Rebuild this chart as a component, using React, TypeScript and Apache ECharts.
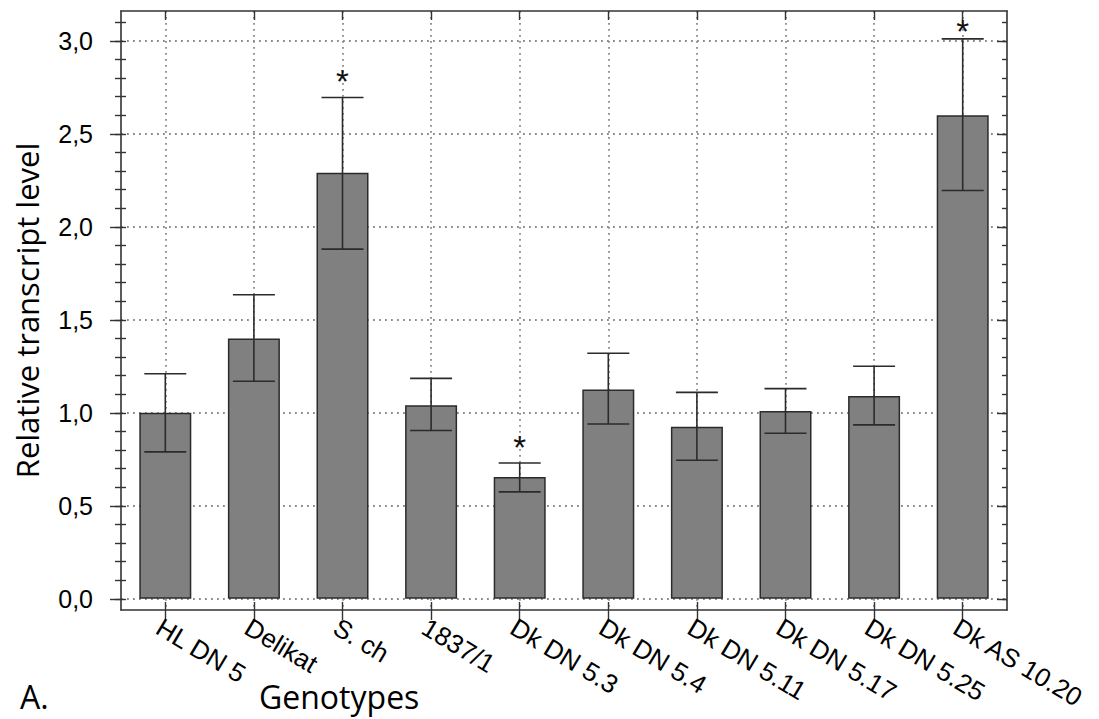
import React, { useEffect, useRef } from "react";
import * as echarts from "echarts";

const categories = [
  "HL DN 5", "Delikat", "S. ch", "1837/1", "Dk DN 5.3",
  "Dk DN 5.4", "Dk DN 5.11", "Dk DN 5.17", "Dk DN 5.25", "Dk AS 10.20",
];
const means = [1.0, 1.40, 2.29, 1.04, 0.655, 1.125, 0.925, 1.01, 1.09, 2.60];
const errLow = [0.79, 1.17, 1.88, 0.905, 0.575, 0.94, 0.745, 0.89, 0.935, 2.195];
const errHigh = [1.21, 1.635, 2.695, 1.185, 0.73, 1.32, 1.11, 1.13, 1.25, 3.01];
const significant = [false, false, true, false, true, false, false, false, false, true];
const majorTicks = [0, 0.5, 1.0, 1.5, 2.0, 2.5, 3.0];
const minorTicks = [
  0, 0.1, 0.2, 0.3, 0.4, 0.5, 0.6, 0.7, 0.8, 0.9, 1.0, 1.1, 1.2, 1.3, 1.4, 1.5,
  1.6, 1.7, 1.8, 1.9, 2.0, 2.1, 2.2, 2.3, 2.4, 2.5, 2.6, 2.7, 2.8, 2.9, 3.0, 3.1,
];
const yMin = -0.06;
const yMax = 3.16;

const AXIS_COLOR = "#333333";
const LABEL_FONT = "'Liberation Sans', Arial, sans-serif";
const TITLE_FONT = "'Open Sans', 'Noto Sans', sans-serif";

export default function App() {
  const ref = useRef<HTMLDivElement>(null);

  useEffect(() => {
    if (!ref.current) return;
    const chart = echarts.init(ref.current, null, { renderer: "svg" });

    const fmt = (v: number) => v.toFixed(1).replace(".", ",");
    const gridDots = { color: "#8a8a8a", width: 1.8, type: [1.8, 4.2] as any };

    const yBase = {
      type: "value",
      min: yMin,
      max: yMax,
      gridIndex: 0,
      splitLine: { show: false },
      axisLabel: { show: false },
      axisLine: { show: false, onZero: false },
    };

    const option: any = {
      animation: false,
      grid: { left: 121, top: 11, right: 92, bottom: 109, containLabel: false },
      xAxis: [
        {
          type: "category",
          data: categories,
          position: "bottom",
          boundaryGap: true,
          axisLine: { show: true, onZero: false, lineStyle: { color: AXIS_COLOR, width: 1.6 } },
          axisTick: { show: true, alignWithLabel: true, inside: false, length: 10, lineStyle: { color: AXIS_COLOR, width: 1.4 } },
          axisLabel: {
            show: true,
            interval: 0,
            rotate: -31,
            margin: 4,
            verticalAlign: "top",
            fontSize: 26,
            color: "#000",
            fontFamily: LABEL_FONT,
          },
          splitLine: { show: true, alignWithLabel: true, lineStyle: gridDots },
        },
        {
          type: "category",
          data: categories,
          position: "bottom",
          boundaryGap: true,
          axisLine: { show: false, onZero: false },
          axisTick: { show: true, alignWithLabel: true, inside: true, length: 8, lineStyle: { color: AXIS_COLOR, width: 1.4 } },
          axisLabel: { show: false },
          splitLine: { show: false },
        },
        {
          type: "category",
          data: categories,
          position: "top",
          boundaryGap: true,
          axisLine: { show: true, onZero: false, lineStyle: { color: AXIS_COLOR, width: 1.6 } },
          axisTick: { show: true, alignWithLabel: true, inside: true, length: 9, lineStyle: { color: AXIS_COLOR, width: 1.4 } },
          axisLabel: { show: false },
          splitLine: { show: false },
        },
      ],
      yAxis: [
        {
          ...yBase,
          position: "left",
          axisLine: { show: true, onZero: false, lineStyle: { color: AXIS_COLOR, width: 1.6 } },
          axisTick: { show: true, inside: true, length: 5, customValues: minorTicks, lineStyle: { color: AXIS_COLOR, width: 1.4 } },
          axisLabel: {
            show: true,
            customValues: majorTicks,
            formatter: (v: number) => fmt(v),
            margin: 28,
            fontSize: 25,
            color: "#000",
            fontFamily: LABEL_FONT,
          },
          name: "Relative transcript level",
          nameLocation: "middle",
          nameGap: 79,
          nameTextStyle: { fontSize: 31, color: "#000", fontFamily: TITLE_FONT },
        },
        {
          ...yBase,
          position: "left",
          axisTick: { show: true, inside: false, length: 6, customValues: minorTicks, lineStyle: { color: AXIS_COLOR, width: 1.4 } },
        },
        {
          ...yBase,
          position: "left",
          axisTick: { show: true, inside: false, length: 11, customValues: majorTicks, lineStyle: { color: AXIS_COLOR, width: 1.4 } },
          splitLine: { show: true, lineStyle: gridDots },
        },
        {
          ...yBase,
          position: "right",
          axisLine: { show: true, onZero: false, lineStyle: { color: AXIS_COLOR, width: 1.6 } },
          axisTick: { show: true, inside: true, length: 5, customValues: minorTicks, lineStyle: { color: AXIS_COLOR, width: 1.4 } },
        },
        {
          ...yBase,
          position: "right",
          axisTick: { show: true, inside: true, length: 10, customValues: majorTicks, lineStyle: { color: AXIS_COLOR, width: 1.4 } },
        },
      ],
      series: [
        {
          type: "bar",
          xAxisIndex: 0,
          yAxisIndex: 0,
          data: means,
          barWidth: 52,
          itemStyle: { color: "#808080", borderColor: "#2b2b2b", borderWidth: 1.5 },
          z: 3,
        },
        {
          type: "custom",
          xAxisIndex: 0,
          yAxisIndex: 0,
          z: 5,
          data: categories.map((_, i) => [i, errLow[i], errHigh[i], significant[i] ? 1 : 0]),
          encode: { x: 0, y: [1, 2] },
          renderItem: (params: any, api: any) => {
            const x = api.value(0);
            const lo = api.coord([x, api.value(1)]);
            const hi = api.coord([x, api.value(2)]);
            const half = 21;
            const style = { stroke: "#2b2b2b", lineWidth: 1.6 };
            const children: any[] = [
              { type: "line", shape: { x1: lo[0], y1: lo[1], x2: hi[0], y2: hi[1] }, style },
              { type: "line", shape: { x1: lo[0] - half, y1: lo[1], x2: lo[0] + half, y2: lo[1] }, style },
              { type: "line", shape: { x1: hi[0] - half, y1: hi[1], x2: hi[0] + half, y2: hi[1] }, style },
            ];
            if (api.value(3) === 1) {
              children.push({
                type: "text",
                x: hi[0],
                y: Math.max(hi[1] - 16, 31),
                style: {
                  text: "*",
                  fontSize: 33,
                  fill: "#111",
                  textAlign: "center",
                  textVerticalAlign: "middle",
                  fontFamily: LABEL_FONT,
                },
              });
            }
            return { type: "group", children };
          },
        },
      ],
      graphic: [
        {
          type: "text",
          left: 259,
          top: 680,
          style: { text: "Genotypes", fontSize: 32, fill: "#000", fontFamily: TITLE_FONT },
        },
        {
          type: "text",
          left: 20,
          top: 680,
          style: { text: "A.", fontSize: 32, fill: "#000", fontFamily: TITLE_FONT },
        },
      ],
    };

    chart.setOption(option);
    return () => chart.dispose();
  }, []);

  return (
    <div
      ref={ref}
      style={{ position: "fixed", left: 0, top: 0, width: 1099, height: 719, background: "#fff" }}
    />
  );
}
